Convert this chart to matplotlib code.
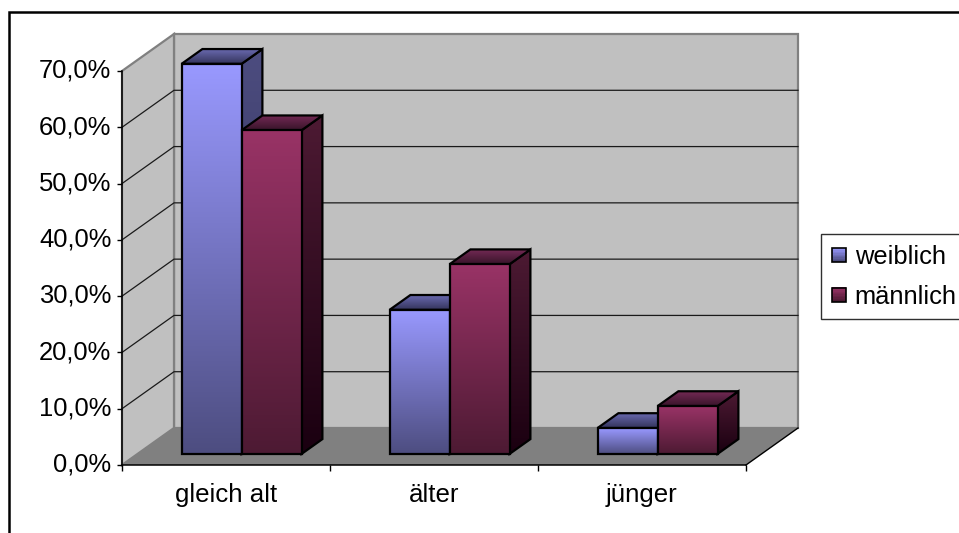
import numpy as np
import matplotlib
matplotlib.use("Agg")
import matplotlib.pyplot as plt
from matplotlib.colors import LinearSegmentedColormap
from matplotlib.legend_handler import HandlerBase
from matplotlib.patches import Patch, Polygon, Rectangle
from matplotlib.transforms import ScaledTranslation

plt.rcParams['font.family'] = ['Liberation Sans', 'DejaVu Sans']

categories = ["gleich alt", "älter", "jünger"]
weiblich = [69.3, 25.6, 4.6]
maennlich = [57.5, 33.7, 8.5]
y_ticks = [0, 10, 20, 30, 40, 50, 60, 70]
y_labels = ["0,0%", "10,0%", "20,0%", "30,0%", "40,0%", "50,0%", "60,0%", "70,0%"]

# colours: (front top, front bottom, side top, side bottom, roof back, roof front)
col_w = ["#9999FF", "#4D4D80", "#4D4D80", "#26264A", "#6A6AB0", "#33335A"]
col_m = ["#993366", "#4D1A33", "#4D1A33", "#1A0010", "#752A55", "#38142A"]

W, H = 959, 533
left, right, top, bottom = 122, 746, 71, 465

fig = plt.figure(figsize=(W / 100, H / 100), dpi=100)
ax = fig.add_axes([left / W, 1 - bottom / H, (right - left) / W, (bottom - top) / H])
ax.set_facecolor("none")

# depth of the box in data units
DX = 52 / 208
DY = 37 / (394 / 70)


def proj(x, y, d=0.0):
    return (x + d * DX, y + d * DY)


def poly(points, face, edge="none", lw=0.0, z=1):
    p = Polygon(points, closed=True, facecolor=face, edgecolor=edge, linewidth=lw,
                zorder=z, clip_on=False, joinstyle="miter")
    ax.add_patch(p)
    return p


def grad_poly(points, c_top, c_bot, z):
    # vertical gradient clipped to a polygon, with black outline on top
    xs = [p[0] for p in points]
    ys = [p[1] for p in points]
    cmap = LinearSegmentedColormap.from_list("g", [c_top, c_bot])
    im = ax.imshow(np.linspace(0, 1, 256).reshape(-1, 1), cmap=cmap, aspect="auto",
                   extent=[min(xs), max(xs), min(ys), max(ys)], origin="upper",
                   zorder=z, interpolation="bilinear")
    clip = Polygon(points, closed=True, transform=ax.transData)
    im.set_clip_path(clip)
    # images stop at the axes box unless the clip box is widened
    im.set_clip_box(fig.bbox)
    poly(points, "none", "black", 1.6, z + 0.01)


# walls and floor
wall_c = "#C0C0C0"
line_c = "#808080"
poly([proj(0, 0, 1), proj(3, 0, 1), proj(3, 70, 1), proj(0, 70, 1)], wall_c, line_c, 1.6, 1)
poly([proj(0, 0), proj(0, 0, 1), proj(0, 70, 1), proj(0, 70)], wall_c, line_c, 1.6, 1)
poly([proj(0, 0), proj(3, 0), proj(3, 0, 1), proj(0, 0, 1)], "#808080", "none", 0, 1.5)
ax.plot(*zip(proj(3, 0), proj(3, 0, 1)), color="black", lw=1.0, zorder=1.6, clip_on=False)

for v in y_ticks[1:-1]:
    ax.plot(*zip(proj(0, v), proj(0, v, 1), proj(3, v, 1)), color="#1a1a1a", lw=0.9,
            zorder=1.2, clip_on=False)


# bars
def bar3d(x0, x1, v, cols, z):
    d0, d1 = 0.3, 0.7
    f = [proj(x0, 0, d0), proj(x1, 0, d0), proj(x1, v, d0), proj(x0, v, d0)]
    s = [proj(x1, 0, d0), proj(x1, 0, d1), proj(x1, v, d1), proj(x1, v, d0)]
    t = [proj(x0, v, d0), proj(x1, v, d0), proj(x1, v, d1), proj(x0, v, d1)]
    grad_poly(s, cols[2], cols[3], z)
    grad_poly(t, cols[4], cols[5], z + 0.1)
    grad_poly(f, cols[0], cols[1], z + 0.2)


bar_w = 60 / 208
for i in range(len(categories)):
    c = i + 0.5
    bar3d(c - bar_w, c, weiblich[i], col_w, 3 + i)
    bar3d(c, c + bar_w, maennlich[i], col_m, 3.5 + i)

ax.set_xlim(0, 3)
ax.set_ylim(0, 70)

# axes
for s in ["top", "right"]:
    ax.spines[s].set_visible(False)
for s in ["left", "bottom"]:
    ax.spines[s].set_linewidth(1.1)
    ax.spines[s].set_zorder(20)
ax.set_xticks([0, 1, 2, 3])
ax.set_xticklabels([])
ax.set_xticks([0.5, 1.5, 2.5], minor=True)
ax.set_xticklabels(categories, minor=True, fontsize=18.6)
ax.tick_params(axis="x", which="major", length=4.5, width=1.0)
ax.tick_params(axis="x", which="minor", length=0, pad=13)
ax.set_yticks(y_ticks)
ax.set_yticklabels(y_labels, fontsize=18.4)
ax.tick_params(axis="y", length=3.6, width=1.0, pad=4)
up = ScaledTranslation(0, 2 / 72, fig.dpi_scale_trans)
for lab in ax.get_yticklabels():
    lab.set_transform(lab.get_transform() + up)


# legend with small gradient swatches
class SwatchHandler(HandlerBase):
    def create_artists(self, legend, orig, xd, yd, width, height, fontsize, trans):
        cols = orig.swatch
        cmap = LinearSegmentedColormap.from_list("s", cols)
        size = 10.0
        x0, y0 = 0.0, (height - size) / 2 - yd
        out = []
        n = 10
        for k in range(n):
            out.append(Rectangle((x0, y0 + size * (n - 1 - k) / n), size, size / n + 0.2,
                                 facecolor=cmap(k / (n - 1)), edgecolor="none", transform=trans))
        out.append(Rectangle((x0, y0), size, size, facecolor="none", edgecolor="black",
                             linewidth=1.2, transform=trans))
        return out


h_w = Patch(facecolor=col_w[0], label="weiblich")
h_w.swatch = col_w[:2]
h_m = Patch(facecolor=col_m[0], label="männlich")
h_m.swatch = col_m[:2]
leg = fig.legend(handles=[h_w, h_m], handler_map={Patch: SwatchHandler()},
                 loc="upper left", bbox_to_anchor=(821 / W, 1 - 234 / H), borderaxespad=0,
                 fontsize=18.4, frameon=True, fancybox=False, edgecolor="#303030",
                 framealpha=1, handlelength=0.55, handletextpad=0.35, labelspacing=0.62,
                 borderpad=0.42)
leg.get_frame().set_linewidth(1.0)

# outer chart frame, open towards the right and bottom like the crop
fig.add_artist(plt.Line2D([9 / W, 9 / W, 1], [0, 1 - 12 / H, 1 - 12 / H], color="black", lw=1.8,
                          solid_joinstyle="miter"))

fig.savefig("out.png", dpi=100)
